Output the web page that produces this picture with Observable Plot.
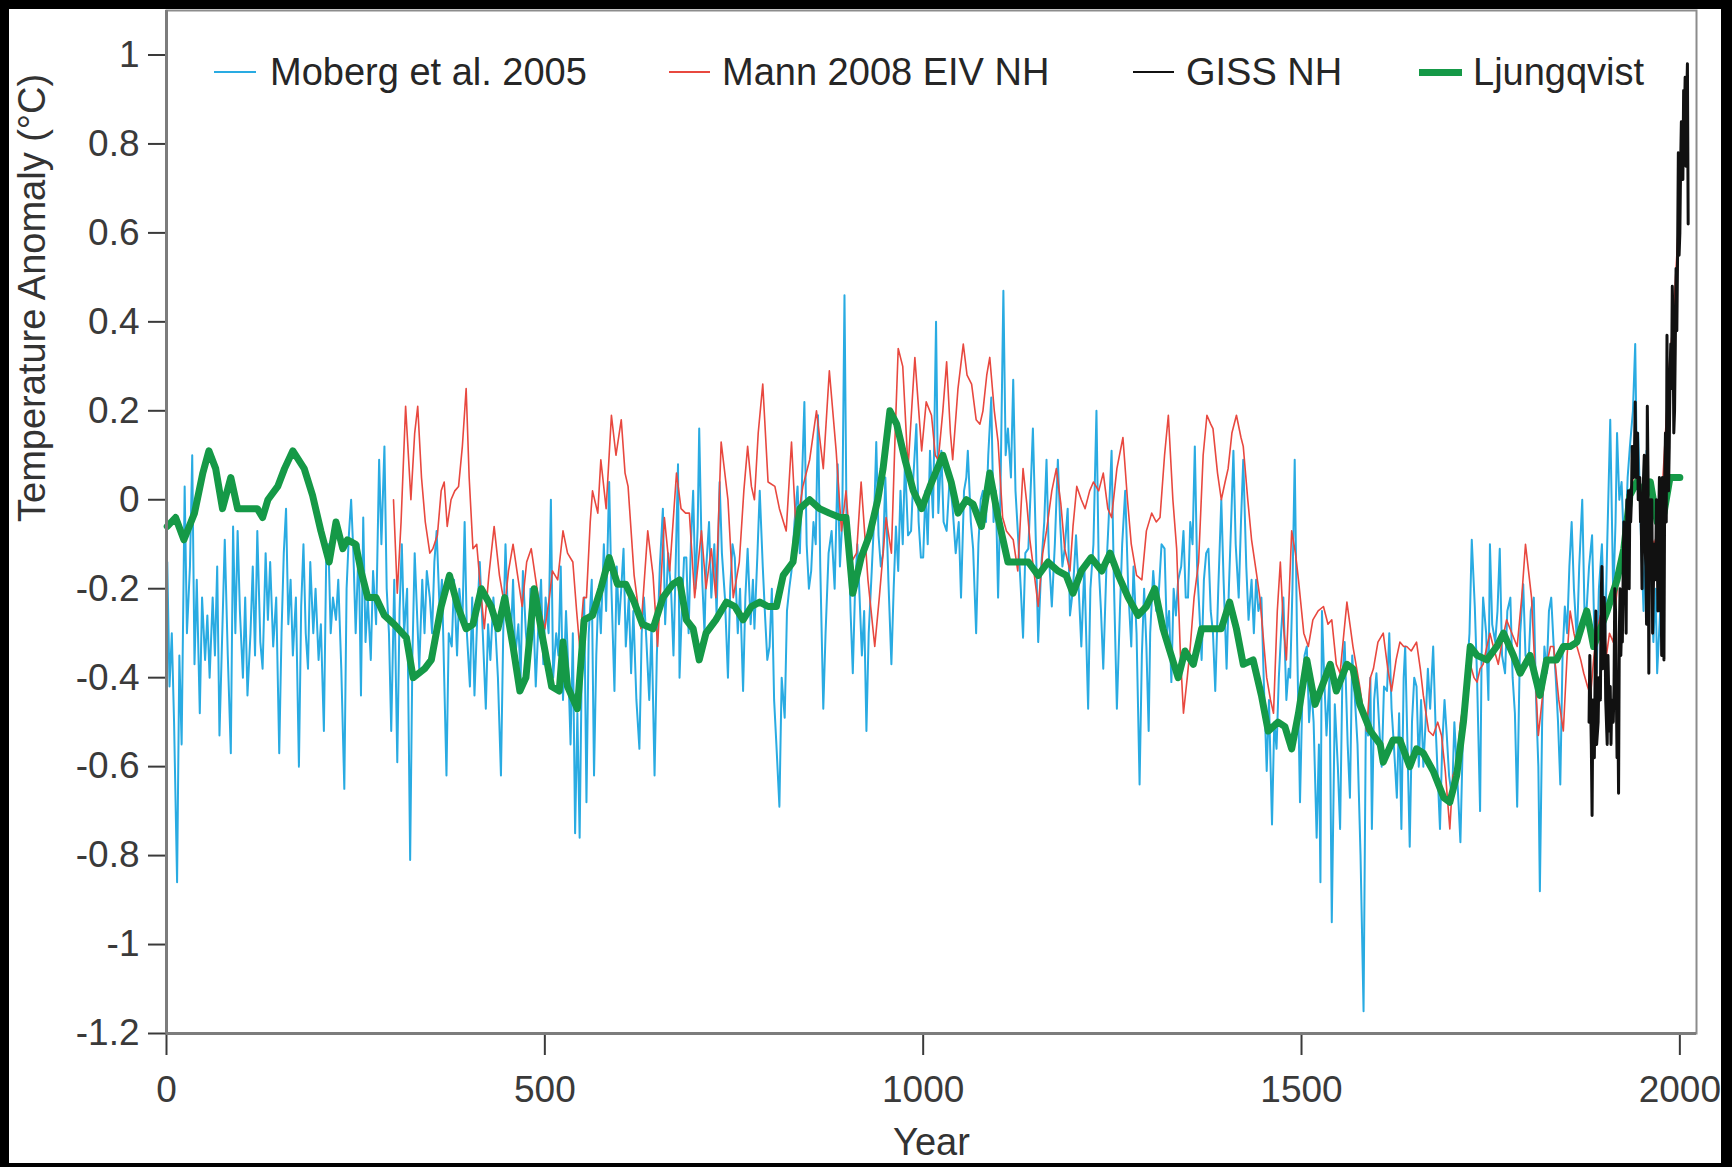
<!DOCTYPE html>
<html>
<head>
<meta charset="utf-8">
<script src="https://cdn.jsdelivr.net/npm/d3@7"></script>
<script src="https://cdn.jsdelivr.net/npm/@observablehq/plot@0.6"></script>
<style>
html,body{margin:0;padding:0;background:#000;width:1732px;height:1167px;overflow:hidden}
#panel{position:absolute;left:9px;top:9px;width:1712px;height:1154px;background:#fff;overflow:hidden;font-family:"Liberation Sans",Arial,Helvetica,sans-serif}
#panel svg g[aria-label*="axis"] line,#panel svg g[aria-label*="axis"] path{stroke-width:2px}
.lg-sw{position:absolute}
.lg-tx{position:absolute;font-size:38px;line-height:38px;color:#262626;white-space:nowrap}
</style>
</head>
<body>
<div id="panel"></div>
<script>
// ---------- data ----------
const xTicks = [0, 500, 1000, 1500, 2000];
const yTicks = [-1.2, -1, -0.8, -0.6, -0.4, -0.2, 0, 0.2, 0.4, 0.6, 0.8, 1];
const seriesNames = ["Moberg et al. 2005", "Mann 2008 EIV NH", "GISS NH", "Ljungqvist"];
const yTitle = "Temperature Anomaly (°C)";
const xTitle = "Year";

const moberg = [
[1,-0.14],[4,-0.42],[7,-0.30],[10,-0.50],[14,-0.86],[17,-0.35],[20,-0.55],[24,0.03],[27,-0.30],[31,-0.15],[34,0.10],[37,-0.37],[40,-0.18],[44,-0.48],[47,-0.22],[51,-0.36],[54,-0.26],[57,-0.40],[61,-0.22],[64,-0.35],[67,-0.15],[70,-0.53],[74,-0.28],[77,-0.09],[81,-0.35],[85,-0.57],[88,-0.06],[91,-0.30],[94,-0.07],[97,-0.25],
[101,-0.40],[104,-0.22],[107,-0.44],[111,-0.30],[114,-0.15],[117,-0.35],[120,-0.07],[124,-0.32],[127,-0.38],[131,-0.12],[134,-0.27],[137,-0.14],[141,-0.33],[145,-0.22],[149,-0.57],[152,-0.30],[155,-0.12],[158,-0.02],[161,-0.28],[164,-0.18],[167,-0.35],[171,-0.22],[175,-0.60],[178,-0.24],[181,-0.10],[184,-0.30],[187,-0.38],[190,-0.14],[194,-0.30],[197,-0.20],
[201,-0.36],[204,-0.28],[208,-0.52],[211,-0.14],[214,-0.10],[217,-0.30],[220,-0.22],[224,-0.27],[227,-0.18],[231,-0.38],[235,-0.65],[238,-0.20],[241,-0.08],[244,0.00],[247,-0.12],[250,-0.30],[254,-0.10],[257,-0.44],[260,-0.04],[263,-0.32],[266,-0.22],[270,-0.36],[273,-0.16],[277,-0.28],[281,0.09],[284,-0.10],[288,0.12],[291,-0.20],[294,-0.30],[297,-0.52],
[301,-0.18],[305,-0.59],[308,-0.25],[311,-0.10],[314,-0.30],[318,-0.20],[322,-0.81],[325,-0.35],[328,-0.12],[331,-0.25],[334,-0.38],[338,-0.18],[341,-0.30],[344,-0.16],[348,-0.22],[351,-0.30],[354,-0.14],[357,-0.07],[361,-0.25],[364,-0.18],[367,-0.40],[370,-0.62],[373,-0.30],[377,-0.33],[380,-0.18],[384,-0.35],[387,-0.20],[391,-0.28],[394,-0.05],[397,-0.30],
[401,-0.42],[404,-0.22],[407,-0.44],[411,-0.25],[414,-0.14],[418,-0.30],[422,-0.47],[425,-0.28],[428,-0.36],[432,-0.22],[435,-0.30],[438,-0.40],[442,-0.62],[445,-0.30],[448,-0.10],[451,-0.25],[455,-0.32],[458,-0.18],[461,-0.35],[465,-0.28],[468,-0.40],[471,-0.16],[475,-0.30],[478,-0.36],[481,-0.20],[485,-0.26],[488,-0.42],[491,-0.30],[495,-0.18],[498,-0.37],
[501,-0.22],[505,-0.30],[508,0.00],[511,-0.40],[515,-0.30],[518,-0.35],[521,-0.15],[524,-0.45],[528,-0.25],[531,-0.38],[534,-0.55],[537,-0.30],[540,-0.75],[543,-0.48],[546,-0.76],[549,-0.35],[552,-0.22],[555,-0.68],[558,-0.30],[562,-0.18],[565,-0.62],[568,-0.35],[571,-0.20],[574,-0.30],[578,-0.10],[581,-0.25],[585,0.04],[588,-0.20],[592,-0.43],[595,-0.15],[598,-0.28],
[601,-0.20],[604,-0.11],[607,-0.33],[611,-0.22],[614,-0.39],[617,-0.25],[621,-0.45],[625,-0.56],[628,-0.30],[631,-0.22],[634,-0.31],[638,-0.45],[641,-0.28],[645,-0.62],[648,-0.35],[652,-0.15],[656,-0.02],[659,-0.28],[663,-0.12],[667,-0.21],[670,-0.35],[673,-0.14],[676,0.08],[678,-0.40],[681,-0.25],[684,-0.13],[687,-0.13],[690,-0.30],[693,-0.10],[696,0.02],[699,-0.20],
[702,-0.06],[704,0.16],[708,-0.18],[711,-0.30],[713,-0.16],[717,-0.05],[720,-0.22],[724,-0.10],[727,-0.26],[731,0.04],[734,-0.12],[738,-0.22],[742,-0.40],[745,-0.20],[748,-0.10],[751,-0.13],[755,-0.30],[758,-0.20],[762,-0.43],[765,-0.22],[768,-0.11],[772,-0.28],[775,-0.18],[777,-0.29],[781,-0.12],[784,0.02],[788,-0.15],[791,-0.26],[794,-0.36],[797,-0.33],
[800,-0.20],[803,-0.45],[806,-0.55],[810,-0.69],[813,-0.40],[817,-0.49],[820,-0.25],[823,-0.20],[826,-0.16],[830,-0.05],[834,0.03],[837,-0.12],[840,0.05],[843,0.22],[846,-0.10],[849,-0.20],[852,-0.16],[855,-0.05],[858,-0.10],[861,0.19],[864,-0.15],[868,-0.47],[871,-0.30],[875,-0.12],[879,-0.07],[883,-0.20],[887,0.08],[890,-0.15],[893,-0.05],[896,0.46],[899,-0.10],
[901,-0.06],[904,-0.25],[907,-0.39],[910,-0.20],[913,-0.10],[916,-0.22],[919,-0.35],[922,-0.25],[925,-0.52],[928,-0.30],[932,-0.16],[935,-0.05],[938,0.13],[941,-0.08],[944,-0.15],[947,-0.12],[950,0.05],[954,-0.18],[958,-0.37],[961,-0.20],[964,-0.06],[967,-0.16],[970,0.02],[973,-0.10],[976,0.09],[980,-0.08],[984,-0.07],[987,0.05],[991,0.17],[994,-0.05],[997,-0.13],
[1000,-0.13],[1003,0.02],[1006,-0.10],[1009,0.11],[1013,-0.04],[1017,0.40],[1020,-0.03],[1024,0.11],[1027,-0.05],[1031,-0.07],[1035,0.05],[1039,-0.02],[1043,-0.12],[1047,-0.05],[1050,-0.22],[1054,0.02],[1057,0.05],[1059,0.11],[1063,-0.05],[1066,-0.11],[1070,-0.30],[1073,-0.10],[1076,0.00],[1079,0.02],[1083,-0.05],[1086,0.10],[1090,0.23],[1093,-0.05],[1096,0.02],[1099,-0.22],
[1102,0.00],[1106,0.47],[1109,0.10],[1112,0.16],[1116,0.05],[1119,0.27],[1122,0.02],[1125,-0.07],[1129,-0.20],[1132,-0.31],[1135,-0.12],[1139,-0.11],[1142,0.02],[1145,0.16],[1149,-0.10],[1152,-0.32],[1156,-0.15],[1160,-0.05],[1163,0.09],[1166,-0.12],[1170,-0.24],[1174,-0.10],[1178,0.09],[1181,-0.05],[1184,-0.15],[1187,-0.11],[1191,-0.02],[1194,-0.26],[1198,-0.20],
[1202,-0.08],[1205,-0.18],[1209,-0.33],[1213,-0.15],[1218,-0.47],[1221,-0.20],[1225,-0.10],[1229,0.20],[1232,-0.15],[1235,-0.25],[1238,-0.38],[1242,-0.16],[1245,-0.05],[1249,0.11],[1252,-0.18],[1256,-0.47],[1260,-0.25],[1263,-0.10],[1267,0.02],[1271,-0.20],[1275,-0.33],[1278,-0.15],[1282,-0.30],[1286,-0.64],[1289,-0.35],[1292,-0.20],[1295,-0.33],[1298,-0.52],
[1300,-0.30],[1304,-0.16],[1308,-0.25],[1311,-0.22],[1315,-0.10],[1319,-0.11],[1322,-0.30],[1325,-0.25],[1328,-0.41],[1331,-0.20],[1334,-0.26],[1337,-0.18],[1341,-0.15],[1344,-0.07],[1347,-0.22],[1350,-0.22],[1353,-0.05],[1356,-0.10],[1359,0.12],[1362,-0.15],[1365,-0.25],[1368,-0.36],[1371,-0.18],[1374,-0.12],[1377,-0.11],[1380,-0.25],[1383,-0.30],[1386,-0.43],[1390,-0.20],[1394,0.00],[1397,-0.18],
[1401,-0.38],[1404,-0.20],[1407,-0.05],[1410,0.11],[1413,-0.10],[1417,-0.22],[1420,-0.05],[1423,0.09],[1427,-0.15],[1430,-0.27],[1434,-0.18],[1437,-0.30],[1440,-0.18],[1443,-0.25],[1447,-0.22],[1450,-0.40],[1454,-0.61],[1457,-0.45],[1461,-0.73],[1464,-0.50],[1467,-0.56],[1470,-0.40],[1473,-0.30],[1476,-0.22],[1480,-0.45],[1483,-0.38],[1485,-0.40],[1488,-0.20],[1491,0.09],[1494,-0.30],[1498,-0.68],
[1501,-0.45],[1504,-0.35],[1507,-0.33],[1510,-0.50],[1513,-0.42],[1516,-0.50],[1520,-0.76],[1523,-0.55],[1525,-0.86],[1527,-0.25],[1530,-0.40],[1533,-0.53],[1537,-0.40],[1540,-0.95],[1544,-0.46],[1548,-0.60],[1551,-0.74],[1554,-0.40],[1557,-0.32],[1561,-0.55],[1564,-0.67],[1567,-0.35],[1571,-0.46],[1574,-0.55],[1578,-0.80],[1582,-1.15],[1585,-0.50],[1588,-0.53],[1591,-0.40],[1593,-0.74],[1596,-0.45],[1599,-0.39],
[1603,-0.52],[1606,-0.60],[1609,-0.42],[1613,-0.43],[1616,-0.30],[1619,-0.47],[1622,-0.55],[1626,-0.67],[1629,-0.48],[1632,-0.74],[1635,-0.40],[1637,-0.33],[1640,-0.55],[1643,-0.78],[1646,-0.50],[1649,-0.40],[1652,-0.42],[1655,-0.60],[1658,-0.45],[1661,-0.60],[1664,-0.50],[1667,-0.38],[1670,-0.47],[1674,-0.33],[1677,-0.50],[1680,-0.62],[1683,-0.74],[1686,-0.55],[1689,-0.45],[1692,-0.53],[1695,-0.62],[1699,-0.67],
[1702,-0.50],[1706,-0.63],[1710,-0.77],[1713,-0.55],[1716,-0.46],[1719,-0.38],[1722,-0.30],[1725,-0.09],[1729,-0.24],[1732,-0.40],[1736,-0.70],[1738,-0.35],[1740,-0.22],[1744,-0.30],[1747,-0.45],[1749,-0.10],[1752,-0.28],[1756,-0.32],[1759,-0.25],[1762,-0.11],[1765,-0.35],[1769,-0.39],[1772,-0.25],[1776,-0.22],[1779,-0.40],[1782,-0.48],[1785,-0.69],[1789,-0.30],[1793,-0.19],[1796,-0.35],
[1800,-0.37],[1803,-0.25],[1807,-0.22],[1810,-0.45],[1813,-0.60],[1815,-0.88],[1818,-0.50],[1821,-0.33],[1824,-0.39],[1827,-0.25],[1830,-0.22],[1833,-0.32],[1836,-0.40],[1839,-0.50],[1842,-0.64],[1845,-0.35],[1848,-0.24],[1851,-0.30],[1854,-0.15],[1857,-0.05],[1860,-0.20],[1864,-0.32],[1867,-0.15],[1871,0.00],[1874,-0.25],[1877,-0.24],[1880,-0.15],[1884,-0.08],[1887,-0.30],[1890,-0.39],[1893,-0.20],[1897,-0.10],
[1901,-0.33],[1904,-0.10],[1908,0.18],[1912,-0.22],[1915,-0.05],[1917,0.15],[1920,0.00],[1923,0.04],[1926,-0.10],[1928,-0.10],[1931,0.05],[1934,0.12],[1938,0.20],[1941,0.35],[1943,0.10],[1945,0.15],[1948,-0.05],[1952,-0.25],[1956,0.11],[1958,-0.15],[1961,-0.10],[1965,-0.32],[1968,-0.20],[1970,-0.39],[1974,-0.25],[1977,-0.10],[1979,0.00]
];

const mann = [
[300,0.00],[305,-0.21],[310,-0.05],[316,0.21],[323,0.00],[328,0.15],[332,0.21],[337,0.05],[342,-0.05],[348,-0.12],[352,-0.11],[358,-0.08],[363,0.02],[367,0.04],[371,-0.06],[376,0.00],[381,0.02],[386,0.03],[391,0.12],[396,0.25],
[400,0.05],[405,-0.11],[410,-0.10],[415,-0.20],[420,-0.29],[426,-0.17],[433,-0.06],[440,-0.17],[447,-0.24],[452,-0.16],[458,-0.10],[464,-0.17],[470,-0.24],[476,-0.14],[482,-0.11],[488,-0.18],[494,-0.25],
[500,-0.29],[506,-0.22],[510,-0.16],[517,-0.18],[524,-0.07],[530,-0.12],[537,-0.14],[542,-0.25],[546,-0.33],[551,-0.22],[555,-0.22],[560,-0.05],[563,0.02],[570,-0.03],[574,0.09],[581,-0.02],[588,0.19],[594,0.10],
[601,0.18],[606,0.06],[610,0.03],[618,-0.17],[627,-0.29],[636,-0.07],[643,-0.17],[649,-0.33],[658,-0.04],[665,-0.16],[674,0.06],[680,-0.02],[686,-0.03],[691,-0.03],[698,-0.22],
[707,-0.07],[713,-0.20],[720,-0.11],[726,-0.22],[733,0.13],[742,0.00],[749,-0.22],[757,-0.14],[763,0.02],[768,0.12],[773,0.03],[777,0.00],[782,0.15],[788,0.26],[795,0.04],
[804,0.03],[810,-0.02],[819,-0.07],[826,0.13],[832,-0.07],[841,0.03],[850,0.09],[859,0.20],[868,0.07],[876,0.29],[885,0.11],[892,-0.07],[898,0.02],
[905,-0.14],[912,-0.12],[918,0.04],[927,-0.18],[936,-0.33],[942,-0.22],[951,-0.04],[958,-0.12],[963,0.15],[967,0.34],[973,0.30],[980,0.07],[989,0.32],[998,0.11],
[1004,0.22],[1011,0.19],[1016,0.10],[1020,0.09],[1026,0.20],[1031,0.31],[1036,0.15],[1039,0.09],[1046,0.25],[1053,0.35],[1058,0.28],[1064,0.26],[1070,0.18],[1075,0.17],[1079,0.20],[1084,0.28],[1088,0.32],[1094,0.20],[1099,0.13],
[1105,-0.04],[1110,-0.07],[1119,-0.09],[1125,-0.16],[1132,0.07],[1137,-0.01],[1141,-0.09],[1147,-0.17],[1152,-0.24],[1158,-0.12],[1163,-0.07],[1170,0.02],[1176,0.07],[1182,-0.01],[1187,-0.11],[1194,-0.16],[1198,-0.06],
[1203,0.03],[1209,0.00],[1214,-0.02],[1220,0.02],[1225,0.04],[1232,0.02],[1238,0.06],[1244,-0.02],[1249,-0.04],[1256,0.07],[1264,0.14],[1270,0.00],[1275,-0.10],[1282,-0.17],[1289,-0.18],[1295,-0.07],
[1302,-0.03],[1308,-0.05],[1313,-0.04],[1319,0.10],[1324,0.19],[1330,0.00],[1335,-0.11],[1340,-0.35],[1344,-0.48],[1349,-0.40],[1353,-0.33],[1358,-0.22],[1364,-0.14],[1370,0.10],[1375,0.19],[1380,0.17],[1383,0.16],[1389,0.06],[1394,0.00],[1399,0.04],
[1403,0.07],[1408,0.15],[1414,0.19],[1420,0.14],[1423,0.12],[1429,0.00],[1434,-0.09],[1440,-0.16],[1445,-0.22],[1450,-0.32],[1454,-0.40],[1459,-0.45],[1463,-0.48],[1468,-0.25],[1472,-0.14],[1476,-0.28],[1480,-0.36],[1484,-0.20],[1487,-0.07],[1492,-0.12],[1496,-0.18],
[1503,-0.30],[1509,-0.33],[1515,-0.27],[1522,-0.25],[1529,-0.24],[1535,-0.28],[1540,-0.27],[1546,-0.37],[1551,-0.39],[1556,-0.30],[1560,-0.23],[1564,-0.28],[1568,-0.33],[1573,-0.38],[1577,-0.42],[1582,-0.48],[1586,-0.52],[1591,-0.40],[1595,-0.38],
[1601,-0.32],[1608,-0.30],[1614,-0.38],[1619,-0.43],[1625,-0.36],[1630,-0.32],[1635,-0.33],[1639,-0.33],[1645,-0.34],[1652,-0.32],[1657,-0.38],[1661,-0.44],[1668,-0.52],[1674,-0.53],[1680,-0.50],[1685,-0.53],[1690,-0.61],[1696,-0.74],
[1700,-0.62],[1705,-0.60],[1710,-0.50],[1714,-0.46],[1719,-0.42],[1723,-0.37],[1728,-0.40],[1732,-0.41],[1736,-0.38],[1740,-0.37],[1745,-0.33],[1749,-0.30],[1755,-0.34],[1760,-0.37],[1765,-0.32],[1771,-0.27],[1778,-0.30],[1785,-0.33],[1791,-0.22],[1796,-0.10],
[1800,-0.16],[1804,-0.22],[1809,-0.40],[1813,-0.53],[1818,-0.45],[1824,-0.37],[1829,-0.33],[1833,-0.33],[1840,-0.45],[1846,-0.52],[1851,-0.35],[1855,-0.25],[1860,-0.30],[1864,-0.33],[1869,-0.36],[1873,-0.39],[1878,-0.42],[1882,-0.44],[1886,-0.36],[1890,-0.30],[1895,-0.26],[1899,-0.27],
[1903,-0.35],[1907,-0.30],[1912,-0.32],[1916,-0.22],[1921,-0.15],[1926,-0.10],[1931,-0.03],[1936,0.03],[1941,0.07],[1946,0.02],[1951,-0.03],[1956,-0.02],[1961,-0.08],[1966,-0.10],[1971,-0.07],[1976,0.00],[1981,0.15],[1986,0.30],[1991,0.40],[1996,0.55],[2001,0.72],[2006,0.85]
];

const ljungqvist = [
[1,-0.06],[12,-0.04],[23,-0.09],[37,-0.03],[48,0.06],[56,0.11],[65,0.07],[74,-0.02],[85,0.05],[94,-0.02],[107,-0.02],[120,-0.02],[127,-0.04],[134,0.00],[147,0.03],[156,0.07],[167,0.11],[182,0.07],[193,0.01],
[204,-0.07],[215,-0.14],[224,-0.05],[233,-0.11],[239,-0.09],[250,-0.10],[257,-0.16],[266,-0.22],[277,-0.22],[288,-0.26],[301,-0.28],[317,-0.31],[326,-0.40],[341,-0.38],[350,-0.36],[363,-0.24],[374,-0.17],[385,-0.24],[396,-0.29],
[405,-0.28],[416,-0.20],[429,-0.24],[438,-0.29],[447,-0.22],[458,-0.33],[467,-0.43],[475,-0.40],[486,-0.20],[497,-0.31],[509,-0.42],[519,-0.43],[524,-0.32],[530,-0.42],[543,-0.47],[552,-0.27],[563,-0.26],[574,-0.20],[585,-0.13],[596,-0.19],
[607,-0.19],[618,-0.23],[629,-0.28],[643,-0.29],[656,-0.22],[669,-0.19],[678,-0.18],[687,-0.27],[696,-0.29],[704,-0.36],[713,-0.30],[726,-0.27],[740,-0.23],[751,-0.24],[762,-0.27],[773,-0.24],[784,-0.23],[795,-0.24],
[806,-0.24],[815,-0.17],[828,-0.14],[837,-0.02],[850,0.00],[863,-0.02],[876,-0.03],[890,-0.04],[898,-0.04],[907,-0.21],[918,-0.13],[929,-0.08],[940,0.00],[947,0.07],[956,0.20],[965,0.17],[976,0.09],[987,0.02],[998,-0.02],
[1009,0.03],[1026,0.10],[1037,0.04],[1046,-0.03],[1057,0.00],[1066,-0.01],[1077,-0.06],[1088,0.06],[1099,-0.04],[1112,-0.14],[1125,-0.14],[1139,-0.14],[1152,-0.17],[1165,-0.14],[1178,-0.16],[1189,-0.17],[1198,-0.21],
[1209,-0.16],[1222,-0.13],[1236,-0.16],[1247,-0.12],[1258,-0.17],[1271,-0.22],[1284,-0.26],[1295,-0.24],[1306,-0.20],[1317,-0.29],[1326,-0.34],[1337,-0.40],[1346,-0.34],[1357,-0.37],[1368,-0.29],[1381,-0.29],[1394,-0.29],
[1405,-0.23],[1414,-0.29],[1423,-0.37],[1436,-0.36],[1447,-0.44],[1456,-0.52],[1469,-0.50],[1478,-0.51],[1487,-0.56],[1496,-0.48],[1507,-0.36],[1518,-0.46],[1527,-0.42],[1538,-0.37],[1546,-0.43],[1560,-0.37],[1568,-0.38],[1577,-0.46],[1591,-0.52],
[1604,-0.55],[1608,-0.59],[1621,-0.54],[1630,-0.54],[1643,-0.60],[1652,-0.56],[1661,-0.57],[1674,-0.61],[1688,-0.67],[1696,-0.68],[1705,-0.62],[1714,-0.50],[1723,-0.33],[1732,-0.35],[1745,-0.36],[1758,-0.33],[1767,-0.30],[1780,-0.35],[1789,-0.39],
[1802,-0.35],[1815,-0.44],[1824,-0.36],[1837,-0.36],[1846,-0.33],[1855,-0.33],[1864,-0.32],[1873,-0.27],[1877,-0.25],[1886,-0.33],[1895,-0.29],[1904,-0.25],[1917,-0.18],[1926,-0.11],[1934,0.01],[1943,0.04],[1952,0.01],[1961,0.04],[1970,-0.05],[1979,-0.03],[1987,0.05],[1996,0.05],[2000,0.05]
];

const giss = [
[1880,-0.50],[1881,-0.35],[1883,-0.55],[1884,-0.71],[1885,-0.45],[1887,-0.58],[1888,-0.40],[1889,-0.25],[1890,-0.55],[1892,-0.50],[1893,-0.40],[1895,-0.45],[1896,-0.22],[1897,-0.15],[1898,-0.38],
[1900,-0.22],[1901,-0.28],[1902,-0.45],[1904,-0.55],[1905,-0.35],[1907,-0.52],[1908,-0.42],[1909,-0.55],[1910,-0.45],[1912,-0.50],[1913,-0.42],[1914,-0.20],[1915,-0.25],[1916,-0.42],[1917,-0.58],[1918,-0.45],[1919,-0.66],
[1920,-0.30],[1921,-0.20],[1922,-0.35],[1923,-0.28],[1924,-0.32],[1925,-0.18],[1926,-0.05],[1927,-0.12],[1928,-0.15],[1929,-0.30],[1930,0.00],[1931,-0.05],[1932,0.02],[1933,-0.20],[1934,0.02],[1935,-0.05],[1936,0.00],[1937,0.12],[1938,0.08],[1939,0.05],
[1940,0.10],[1941,0.22],[1942,0.05],[1943,0.08],[1944,0.15],[1945,0.00],[1946,0.02],[1947,0.05],[1948,-0.05],[1949,-0.05],[1950,-0.20],[1951,0.00],[1952,0.05],[1953,0.10],[1954,-0.10],[1955,-0.15],[1956,-0.28],[1957,0.21],[1958,0.05],[1959,-0.39],
[1960,-0.05],[1961,0.00],[1962,-0.05],[1963,0.00],[1964,-0.30],[1965,-0.20],[1966,-0.10],[1967,-0.12],[1968,-0.18],[1969,0.00],[1970,-0.08],[1971,-0.25],[1972,-0.05],[1973,0.05],[1974,-0.25],[1975,-0.15],[1976,-0.35],[1977,0.05],[1978,-0.10],[1979,-0.36],
[1980,0.05],[1981,0.15],[1982,-0.05],[1983,0.37],[1984,0.05],[1985,0.02],[1986,0.12],[1987,0.28],[1988,0.35],[1989,0.25],[1990,0.48],[1991,0.40],[1992,0.15],[1993,0.20],[1994,0.35],[1995,0.52],[1996,0.38],[1997,0.55],[1998,0.78],[1999,0.55],
[2000,0.60],[2001,0.75],[2002,0.85],[2003,0.82],[2004,0.72],[2005,0.92],[2006,0.85],[2007,0.95],[2008,0.75],[2009,0.90],[2010,0.98],[2011,0.62]
];

// ---------- styles ----------
const colors = ["#29abe2", "#e8483f", "#111111", "#159947"];
const widths = [2, 1.6, 3, 7];
// legend layout (px, inside panel)
const legendSwatchX = [205, 660, 1124, 1410];
const legendSwatchW = [42, 41, 41, 43];
const legendTextX = [261, 713, 1177, 1464];
const legendCenterY = 63;

const yr = d => d[0], val = d => d[1];

const chart = Plot.plot({
  width: 1712,
  height: 1154,
  marginLeft: 157,
  marginRight: 25,
  marginTop: 1,
  marginBottom: 130,
  style: {
    fontFamily: '"Liberation Sans", Arial, Helvetica, sans-serif',
    fontSize: "37px",
    color: "#3a3a3a",
    background: "transparent",
    overflow: "visible"
  },
  x: {domain: [0, 2022], ticks: xTicks, tickFormat: d => String(d), tickSize: 22, tickPadding: 20, label: null},
  y: {domain: [-1.2, 1.1], ticks: yTicks, tickFormat: d => String(d), tickSize: 18, tickPadding: 9, label: null},
  marks: [
    Plot.line(moberg, {x: yr, y: val, stroke: colors[0], strokeWidth: widths[0]}),
    Plot.line(mann, {x: yr, y: val, stroke: colors[1], strokeWidth: widths[1]}),
    Plot.line(ljungqvist, {x: yr, y: val, stroke: colors[3], strokeWidth: widths[3], strokeLinejoin: "round"}),
    Plot.line(giss, {x: yr, y: val, stroke: colors[2], strokeWidth: widths[2]}),
    Plot.frame({stroke: "#8c8c8c", strokeWidth: 2}),
    Plot.ruleX([0], {stroke: "#7c7c7c", strokeWidth: 3}),
    Plot.ruleY([-1.2], {stroke: "#7c7c7c", strokeWidth: 3}),
    Plot.text([yTitle], {frameAnchor: "left", rotate: -90, dx: -134, fontSize: 38, fill: "#333"}),
    Plot.text([xTitle], {frameAnchor: "bottom", lineAnchor: "top", dy: 95, fontSize: 38, fill: "#333"})
  ]
});

const panel = document.getElementById("panel");
panel.appendChild(chart);

// legend overlay
seriesNames.forEach((name, i) => {
  const sw = document.createElement("div");
  sw.className = "lg-sw";
  sw.style.left = legendSwatchX[i] + "px";
  sw.style.width = legendSwatchW[i] + "px";
  const h = i === 3 ? 7 : 2.5;
  sw.style.height = h + "px";
  sw.style.top = (legendCenterY - h / 2) + "px";
  sw.style.background = colors[i];
  panel.appendChild(sw);
  const tx = document.createElement("div");
  tx.className = "lg-tx";
  tx.style.left = legendTextX[i] + "px";
  tx.style.top = (legendCenterY - 19) + "px";
  tx.textContent = name;
  panel.appendChild(tx);
});
</script>
</body>
</html>
